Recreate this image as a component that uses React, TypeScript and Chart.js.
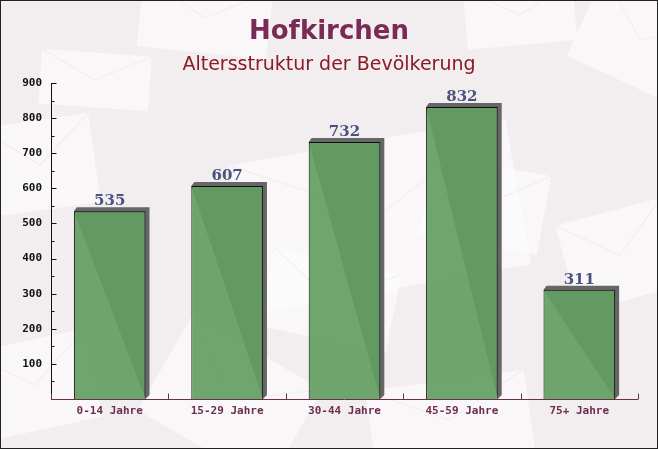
import React, { useEffect, useRef } from 'react';
import { Chart, registerables } from 'chart.js';

Chart.register(...registerables);

const TITLE = 'Hofkirchen';
const SUBTITLE = 'Altersstruktur der Bevölkerung';
const categories = ['0-14 Jahre', '15-29 Jahre', '30-44 Jahre', '45-59 Jahre', '75+ Jahre'];
const population = [535, 607, 732, 832, 311];
const yMin = 0;
const yMax = 900;
const yLabelStep = 100;
const yMinorStep = 50;

const W = 658;
const H = 449;

// faint envelope-like background decorations: [cx, cy, w, h, angleDeg]
const decorations: number[][] = [
  [205, 18, 130, 70, 6],
  [40, 165, 110, 90, -8],
  [380, 215, 280, 150, -10],
  [485, 205, 120, 80, 10],
  [640, 40, 120, 90, 25],
  [520, 15, 110, 60, -5],
  [230, 400, 150, 110, 30],
  [620, 255, 110, 90, -15],
  [35, 385, 120, 90, -12],
  [95, 80, 110, 55, 4],
  [450, 420, 160, 80, -8],
  [330, 300, 130, 80, 12],
];

const bgPlugin = {
  id: 'bgPlugin',
  beforeDraw(chart: any) {
    const ctx = chart.ctx;
    ctx.save();
    ctx.fillStyle = '#f2eef0';
    ctx.fillRect(0, 0, W, H);
    for (const d of decorations) {
      ctx.save();
      ctx.translate(d[0], d[1]);
      ctx.rotate((d[4] * Math.PI) / 180);
      ctx.fillStyle = 'rgba(255,255,255,0.5)';
      ctx.fillRect(-d[2] / 2, -d[3] / 2, d[2], d[3]);
      ctx.strokeStyle = 'rgba(235,225,228,0.5)';
      ctx.lineWidth = 1;
      ctx.beginPath();
      ctx.moveTo(-d[2] / 2, -d[3] / 2);
      ctx.lineTo(0, 0);
      ctx.lineTo(d[2] / 2, -d[3] / 2);
      ctx.stroke();
      ctx.restore();
    }
    ctx.restore();
  },
  beforeDatasetsDraw(chart: any) {
    const ctx = chart.ctx;
    const meta = chart.getDatasetMeta(0);
    ctx.save();
    ctx.fillStyle = '#666666';
    meta.data.forEach((bar: any) => {
      const p = bar.getProps(['x', 'y', 'base', 'width'], true);
      const l = p.x - p.width / 2;
      const r = p.x + p.width / 2;
      ctx.beginPath();
      ctx.moveTo(l, p.y);
      ctx.lineTo(l + 3, p.y - 4);
      ctx.lineTo(r + 4, p.y - 4);
      ctx.lineTo(r + 4, p.base - 4);
      ctx.lineTo(r, p.base);
      ctx.closePath();
      ctx.fill();
    });
    ctx.restore();
  },
  afterDatasetsDraw(chart: any) {
    const ctx = chart.ctx;
    const area = chart.chartArea;
    const xs = chart.scales.x;
    const ys = chart.scales.y;
    const meta = chart.getDatasetMeta(0);
    ctx.save();
    // value labels
    ctx.font = 'bold 15px "DejaVu Serif"';
    ctx.fillStyle = '#4a5282';
    ctx.textAlign = 'center';
    ctx.textBaseline = 'alphabetic';
    meta.data.forEach((bar: any, i: number) => {
      const p = bar.getProps(['x', 'y'], true);
      ctx.fillText(String(population[i]), p.x, p.y - 6);
    });
    // y axis line and ticks
    ctx.strokeStyle = '#111111';
    ctx.lineWidth = 1;
    const lx = Math.round(area.left) + 0.5;
    ctx.beginPath();
    ctx.moveTo(lx, Math.round(area.top));
    ctx.lineTo(lx, Math.round(area.bottom));
    for (let v = yMin + yMinorStep; v <= yMax; v += yMinorStep) {
      const py = Math.round(ys.getPixelForValue(v)) + 0.5;
      const len = v % yLabelStep === 0 ? 5 : 3;
      ctx.moveTo(lx, py);
      ctx.lineTo(lx + len, py);
    }
    ctx.stroke();
    // x axis line and ticks
    ctx.strokeStyle = '#6a3048';
    const by = Math.round(area.bottom) + 0.5;
    ctx.beginPath();
    ctx.moveTo(area.left, by);
    ctx.lineTo(area.right, by);
    for (let i = 0; i <= categories.length; i++) {
      const px = Math.round(xs.getPixelForValue(i - 0.5)) + 0.5;
      ctx.moveTo(px, by);
      ctx.lineTo(px, by - 6);
    }
    ctx.stroke();
    // titles
    ctx.textAlign = 'center';
    ctx.textBaseline = 'alphabetic';
    ctx.font = 'bold 26px "DejaVu Sans"';
    ctx.fillStyle = '#7a2a55';
    ctx.fillText(TITLE, W / 2, 39);
    ctx.font = '19px "DejaVu Sans"';
    ctx.fillStyle = '#8b1a24';
    ctx.fillText(SUBTITLE, W / 2, 70);
    // outer border
    ctx.strokeStyle = '#222222';
    ctx.strokeRect(0.5, 0.5, W - 1, H - 1);
    ctx.restore();
  },
};

export default function App() {
  const ref = useRef<HTMLCanvasElement | null>(null);
  useEffect(() => {
    if (!ref.current) return;
    const chart = new Chart(ref.current, {
      type: 'bar',
      data: {
        labels: categories,
        datasets: [
          {
            data: population,
            backgroundColor: 'rgba(98,158,98,0.92)',
            borderColor: '#111111',
            borderWidth: 1,
            borderSkipped: 'bottom',
            barPercentage: 0.61,
            categoryPercentage: 1,
          },
        ],
      },
      options: {
        responsive: false,
        animation: false,
        devicePixelRatio: 1,
        layout: { padding: { top: 83, right: 20, left: 0, bottom: 0 } },
        plugins: {
          legend: { display: false },
          title: { display: false },
          tooltip: { enabled: false },
        },
        scales: {
          x: {
            offset: true,
            grid: { display: false, drawTicks: false },
            border: { display: false },
            ticks: {
              autoSkip: false,
              maxRotation: 0,
              padding: 6,
              color: '#6e2d50',
              font: { family: 'DejaVu Sans Mono', size: 11, weight: 'bold' },
            },
            afterFit(scale: any) {
              scale.height = 50;
            },
          },
          y: {
            min: yMin,
            max: yMax,
            grid: { display: false, drawTicks: false },
            border: { display: false },
            ticks: {
              stepSize: yMinorStep,
              padding: 9,
              color: '#111111',
              font: { family: 'DejaVu Sans Mono', size: 11, weight: 'bold' },
              callback: (v: any) => (Number(v) % yLabelStep === 0 && Number(v) !== 0 ? String(v) : ''),
            },
            afterFit(scale: any) {
              scale.width = 51;
            },
          },
        },
      },
      plugins: [bgPlugin],
    });
    return () => chart.destroy();
  }, []);
  return (
    <div style={{ position: 'fixed', left: 0, top: 0, width: W, height: H }}>
      <canvas ref={ref} width={W} height={H} style={{ width: W, height: H, display: 'block' }} />
    </div>
  );
}
